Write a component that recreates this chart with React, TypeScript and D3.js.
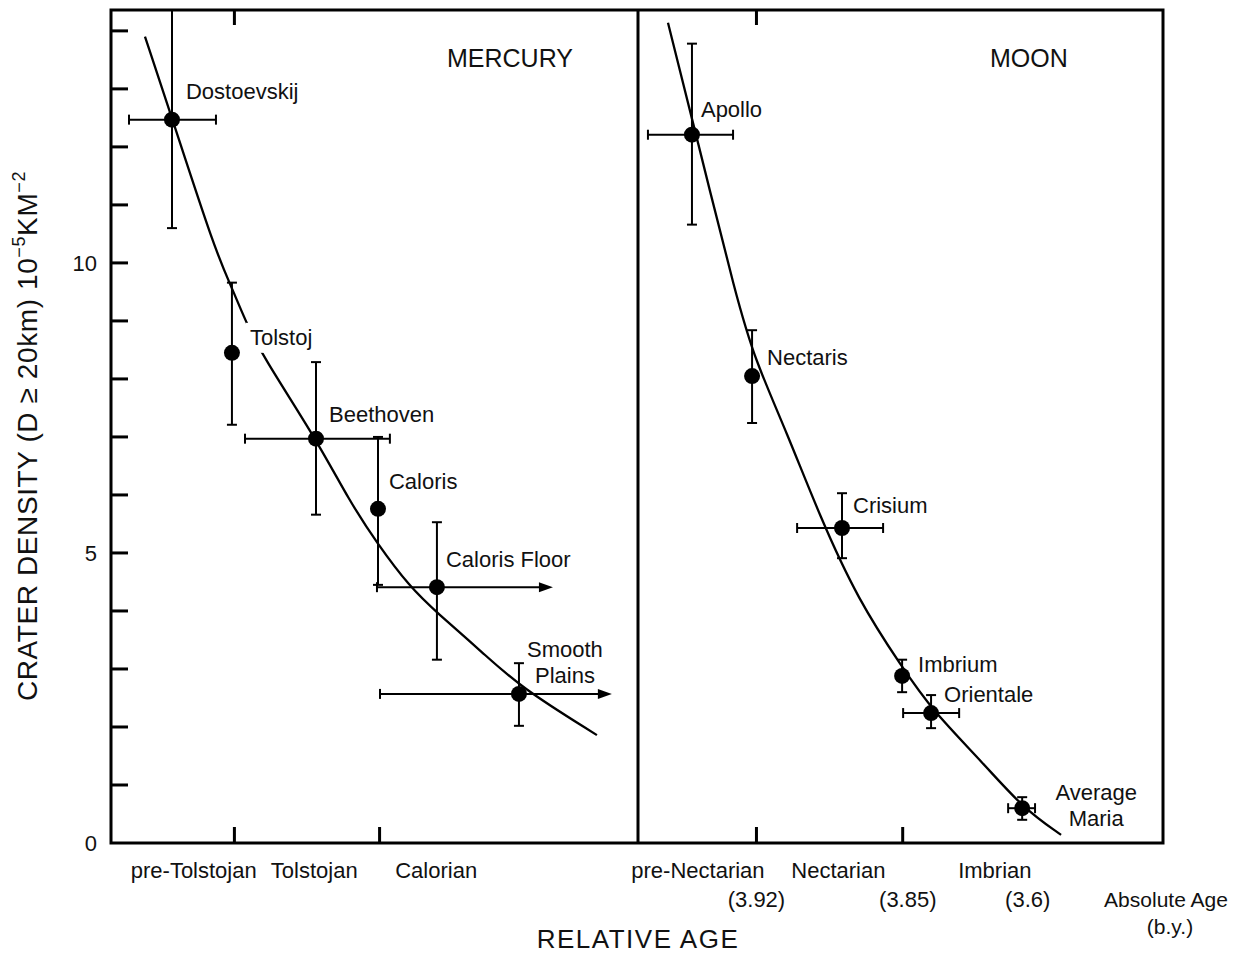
import React from "react";
import * as d3 from "d3";

// ---------------- DATA ----------------
// Mercury (relative age index, crater density 1e-5 km^-2)
const mercuryNames = ["Dostoevskij", "Tolstoj", "Beethoven", "Caloris", "Caloris Floor", "Smooth Plains"];
const mercuryAge = [0.57, 0.983, 1.562, 1.989, 2.395, 2.96];
const mercuryDensity = [12.47, 8.45, 6.97, 5.76, 4.41, 2.57];
const mercuryDensityLo = [10.6, 7.21, 5.66, 4.45, 3.16, 2.02];
const mercuryDensityHi = [14.36, 9.66, 8.29, 7.0, 5.53, 3.1];
const mercuryAgeLo: (number | null)[] = [0.274, null, 1.073, null, 1.982, 2.003];
const mercuryAgeHi: (number | null)[] = [0.873, null, 2.071, null, 3.194, 3.6];
const mercuryArrow = [false, false, false, false, true, true];
const mercuryCurveAge = [0.384, 0.57, 0.866, 0.983, 1.073, 1.19, 1.562, 1.796, 1.982, 2.209, 2.395, 2.712, 2.967, 3.497];
const mercuryCurveDensity = [13.9, 12.5, 10.22, 9.57, 9.02, 8.41, 6.97, 5.88, 5.17, 4.41, 3.97, 3.28, 2.69, 1.86];
const mercuryPeriods = ["pre-Tolstojan", "Tolstojan", "Calorian"];
const mercuryPeriodCenters = [0.72, 1.55, 2.39];

// Moon
const moonNames = ["Apollo", "Nectaris", "Crisium", "Imbrium", "Orientale", "Average Maria"];
const moonAge = [0.559, 0.97, 1.585, 1.996, 2.194, 2.817];
const moonDensity = [12.21, 8.05, 5.43, 2.88, 2.24, 0.6];
const moonDensityLo = [10.66, 7.24, 4.91, 2.6, 1.98, 0.4];
const moonDensityHi = [13.78, 8.84, 6.03, 3.16, 2.55, 0.79];
const moonAgeLo: (number | null)[] = [0.258, null, 1.278, null, 2.003, 2.721];
const moonAgeHi: (number | null)[] = [0.84, null, 1.866, null, 2.386, 2.905];
const moonCurveAge = [0.395, 0.587, 0.867, 0.99, 1.209, 1.435, 1.695, 1.996, 2.201, 2.55, 2.823, 3.083];
const moonCurveDensity = [14.14, 12.21, 9.36, 8.33, 7.07, 5.62, 4.19, 3.03, 2.29, 1.38, 0.6, 0.14];
const moonPeriods = ["pre-Nectarian", "Nectarian", "Imbrian"];
const moonPeriodCenters = [0.6, 1.56, 2.63];
const moonAbsAges = ["(3.92)", "(3.85)", "(3.6)"];
const moonAbsAgeAt = [1.0, 2.035, 2.855];

const yTicks = [1, 2, 3, 4, 5, 6, 7, 8, 9, 10, 11, 12, 13, 14];
const yTickLabels = [0, 5, 10];
const boundaryTicks = [1, 2];

// ---------------- LAYOUT ----------------
const W = 1238;
const H = 955;
const left = 111;
const divider = 638;
const right = 1163;
const top = 10;
const bottom = 843;
const FONT = "'Liberation Sans', Arial, Helvetica, sans-serif";

const y = d3.scaleLinear().domain([0, 14.36]).range([bottom, top]);
const xMerc = d3.scaleLinear().domain([0.15, 3.78]).range([left, divider]);
const xMoon = d3.scaleLinear().domain([0.19, 3.78]).range([divider, right]);

// label placement (pixel offsets from marker)
const mercLabelOff = [
  { dx: 14, dy: [-21], anchor: "start", bg: false },
  { dx: 18, dy: [-8], anchor: "start", bg: true },
  { dx: 13, dy: [-17], anchor: "start", bg: false },
  { dx: 11, dy: [-20], anchor: "start", bg: false },
  { dx: 9, dy: [-20], anchor: "start", bg: false },
  { dx: 46, dy: [-37, -11], anchor: "middle", bg: false },
];
const moonLabelOff = [
  { dx: 9, dy: [-18], anchor: "start", bg: false },
  { dx: 15, dy: [-11], anchor: "start", bg: false },
  { dx: 11, dy: [-15], anchor: "start", bg: false },
  { dx: 16, dy: [-4], anchor: "start", bg: false },
  { dx: 13, dy: [-11], anchor: "start", bg: false },
  { dx: 74, dy: [-8, 18], anchor: "middle", bg: false },
];
const splitNames: Record<string, string[]> = {
  "Smooth Plains": ["Smooth", "Plains"],
  "Average Maria": ["Average", "Maria"],
};

const line = d3
  .line<[number, number]>()
  .x((d) => d[0])
  .y((d) => d[1])
  .curve(d3.curveBasis);

function Panel(props: {
  x: d3.ScaleLinear<number, number>;
  names: string[];
  age: number[];
  dens: number[];
  lo: number[];
  hi: number[];
  aLo: (number | null)[];
  aHi: (number | null)[];
  arrow?: boolean[];
  cAge: number[];
  cDens: number[];
  offs: { dx: number; dy: number[]; anchor: string; bg: boolean }[];
}) {
  const { x, names, age, dens, lo, hi, aLo, aHi, arrow, cAge, cDens, offs } = props;
  const pts: [number, number][] = cAge.map((a, i) => [x(a), y(cDens[i])]);
  const cap = 5;
  return (
    <g>
      <path d={line(pts) || ""} fill="none" stroke="#000" strokeWidth={2.3} />
      {names.map((n, i) => {
        const px = x(age[i]);
        const py = y(dens[i]);
        const o = offs[i];
        const lines = splitNames[n] || [n];
        return (
          <g key={n}>
            {o.bg && (
              <rect x={px + o.dx - 4} y={py + o.dy[0] - 22} width={70} height={30} fill="#fff" />
            )}
            {/* vertical error */}
            <line x1={px} x2={px} y1={y(lo[i])} y2={y(hi[i])} stroke="#000" strokeWidth={2} />
            <line x1={px - cap} x2={px + cap} y1={y(lo[i])} y2={y(lo[i])} stroke="#000" strokeWidth={2} />
            {y(hi[i]) > top + 2 && (
              <line x1={px - cap} x2={px + cap} y1={y(hi[i])} y2={y(hi[i])} stroke="#000" strokeWidth={2} />
            )}
            {/* horizontal error */}
            {aLo[i] != null && (
              <g>
                <line x1={x(aLo[i] as number)} x2={x(aHi[i] as number) - (arrow && arrow[i] ? 8 : 0)} y1={py} y2={py} stroke="#000" strokeWidth={2} />
                <line x1={x(aLo[i] as number)} x2={x(aLo[i] as number)} y1={py - cap} y2={py + cap} stroke="#000" strokeWidth={2} />
                {arrow && arrow[i] ? (
                  <path
                    d={`M${x(aHi[i] as number)},${py} L${x(aHi[i] as number) - 14},${py - 5} L${x(aHi[i] as number) - 14},${py + 5} Z`}
                    fill="#000"
                  />
                ) : (
                  <line x1={x(aHi[i] as number)} x2={x(aHi[i] as number)} y1={py - cap} y2={py + cap} stroke="#000" strokeWidth={2} />
                )}
              </g>
            )}
            <circle cx={px} cy={py} r={8} fill="#000" />
            <text x={px + o.dx} y={py} fontSize={22} fontFamily={FONT} textAnchor={o.anchor as any} fill="#111">
              {lines.map((t, k) => (
                <tspan key={k} x={px + o.dx} y={py + o.dy[k]}>
                  {t}
                </tspan>
              ))}
            </text>
          </g>
        );
      })}
    </g>
  );
}

export default function App() {
  return (
    <svg
      width={W}
      height={H}
      viewBox={`0 0 ${W} ${H}`}
      style={{ position: "absolute", left: 0, top: 0, background: "#fff" }}
    >
      <rect x={0} y={0} width={W} height={H} fill="#fff" />
      <defs>
        <clipPath id="plotClip">
          <rect x={left} y={top} width={right - left} height={bottom - top} />
        </clipPath>
      </defs>

      <g clipPath="url(#plotClip)">
        <Panel
          x={xMerc}
          names={mercuryNames}
          age={mercuryAge}
          dens={mercuryDensity}
          lo={mercuryDensityLo}
          hi={mercuryDensityHi}
          aLo={mercuryAgeLo}
          aHi={mercuryAgeHi}
          arrow={mercuryArrow}
          cAge={mercuryCurveAge}
          cDens={mercuryCurveDensity}
          offs={mercLabelOff}
        />
        <Panel
          x={xMoon}
          names={moonNames}
          age={moonAge}
          dens={moonDensity}
          lo={moonDensityLo}
          hi={moonDensityHi}
          aLo={moonAgeLo}
          aHi={moonAgeHi}
          cAge={moonCurveAge}
          cDens={moonCurveDensity}
          offs={moonLabelOff}
        />
      </g>

      {/* frame */}
      <rect x={left} y={top} width={right - left} height={bottom - top} fill="none" stroke="#000" strokeWidth={3} />
      <line x1={divider} x2={divider} y1={top} y2={bottom} stroke="#000" strokeWidth={3} />

      {/* y ticks */}
      {yTicks.map((t) => (
        <line key={t} x1={left} x2={left + 17} y1={y(t)} y2={y(t)} stroke="#000" strokeWidth={3} />
      ))}
      {yTickLabels.map((t) => (
        <text key={t} x={97} y={y(t) + 8} fontSize={22} fontFamily={FONT} textAnchor="end" fill="#111">
          {t}
        </text>
      ))}

      {/* boundary ticks */}
      {boundaryTicks.map((b) => (
        <g key={"m" + b}>
          <line x1={xMerc(b)} x2={xMerc(b)} y1={bottom} y2={bottom - 16} stroke="#000" strokeWidth={3} />
          <line x1={xMoon(b)} x2={xMoon(b)} y1={bottom} y2={bottom - 16} stroke="#000" strokeWidth={3} />
        </g>
      ))}
      <line x1={xMerc(1)} x2={xMerc(1)} y1={top} y2={top + 15} stroke="#000" strokeWidth={3} />
      <line x1={xMoon(1)} x2={xMoon(1)} y1={top} y2={top + 15} stroke="#000" strokeWidth={3} />

      {/* period labels */}
      {mercuryPeriods.map((p, i) => (
        <text key={p} x={xMerc(mercuryPeriodCenters[i])} y={878} fontSize={22} fontFamily={FONT} textAnchor="middle" fill="#111">
          {p}
        </text>
      ))}
      {moonPeriods.map((p, i) => (
        <text key={p} x={xMoon(moonPeriodCenters[i])} y={878} fontSize={22} fontFamily={FONT} textAnchor="middle" fill="#111">
          {p}
        </text>
      ))}
      {moonAbsAges.map((p, i) => (
        <text key={p} x={xMoon(moonAbsAgeAt[i])} y={907} fontSize={22} fontFamily={FONT} textAnchor="middle" fill="#111">
          {p}
        </text>
      ))}
      <text x={1166} y={907} fontSize={21} fontFamily={FONT} textAnchor="middle" fill="#111">
        Absolute Age
      </text>
      <text x={1170} y={934} fontSize={21} fontFamily={FONT} textAnchor="middle" fill="#111">
        (b.y.)
      </text>

      {/* panel titles */}
      <text x={447} y={67} fontSize={25} fontFamily={FONT} fill="#111">
        MERCURY
      </text>
      <text x={990} y={67} fontSize={25} fontFamily={FONT} fill="#111">
        MOON
      </text>

      {/* axis titles */}
      <text x={638} y={948} fontSize={26} letterSpacing={1.5} fontFamily={FONT} textAnchor="middle" fill="#111">
        RELATIVE AGE
      </text>
      <text
        transform={`translate(37,${436}) rotate(-90)`}
        fontSize={28}
        letterSpacing={0.6}
        fontFamily={FONT}
        textAnchor="middle"
        fill="#111"
      >
        CRATER DENSITY (D ≥ 20km) 10
        <tspan fontSize={18} dy={-12}>−5</tspan>
        <tspan dy={12}>KM</tspan>
        <tspan fontSize={18} dy={-12}>−2</tspan>
      </text>
    </svg>
  );
}
